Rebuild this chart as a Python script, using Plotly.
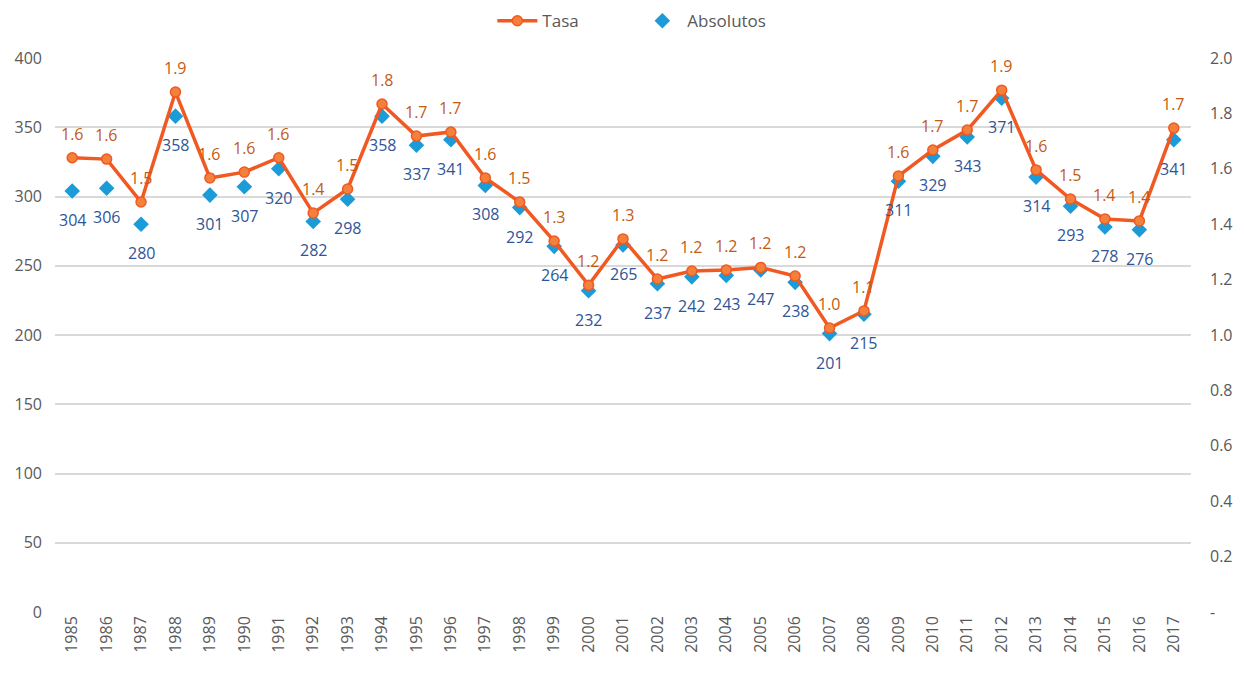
import plotly.graph_objects as go

YEARS = [str(y) for y in range(1985, 2018)]

ABSOLUTOS = [304, 306, 280, 358, 301, 307, 320, 282, 298, 358, 337, 341, 308, 292, 264,
             232, 265, 237, 242, 243, 247, 238, 201, 215, 311, 329, 343, 371, 314, 293,
             278, 276, 341]

TASA = [1.64, 1.635, 1.48, 1.877, 1.567, 1.588, 1.64, 1.44, 1.527, 1.834, 1.718, 1.733,
        1.567, 1.48, 1.339, 1.18, 1.347, 1.202, 1.231, 1.235, 1.244, 1.213, 1.025, 1.087,
        1.574, 1.668, 1.74, 1.884, 1.596, 1.491, 1.419, 1.412, 1.747]

LEFT_TICKS = list(range(0, 401, 50))
RIGHT_TICKS = [0, 0.2, 0.4, 0.6, 0.8, 1.0, 1.2, 1.4, 1.6, 1.8, 2.0]
RIGHT_TEXT = ["-"] + [f"{v:.1f}" for v in RIGHT_TICKS[1:]]

FONT = "Open Sans"
GRAY = "#595959"
ORANGE = "#F05A22"
ORANGE_TXT = "#C55A11"
BLUE = "#1B9BD7"
BLUE_TXT = "#2F5597"

fig = go.Figure()

fig.add_trace(go.Scatter(
    x=YEARS,
    y=TASA,
    name="Tasa",
    mode="lines+markers",
    line=dict(color=ORANGE, width=3.5),
    marker=dict(symbol="circle", size=10, color="#F3813B", line=dict(color=ORANGE, width=1.5)),
    yaxis="y2",
))

fig.add_trace(go.Scatter(
    x=YEARS,
    y=ABSOLUTOS,
    name="Absolutos",
    mode="markers",
    marker=dict(symbol="diamond", size=12, color=BLUE),
    yaxis="y",
))

# etiquetas de datos (x por índice de categoría)
annotations = []
for i, v in enumerate(TASA):
    annotations.append(dict(
        x=i, y=v, xref="x", yref="y2", text=f"{v:.1f}", showarrow=False,
        yshift=24, font=dict(family=FONT, size=16, color=ORANGE_TXT),
    ))
for i, v in enumerate(ABSOLUTOS):
    annotations.append(dict(
        x=i, y=v, xref="x", yref="y", text=str(v), showarrow=False,
        yshift=-29, font=dict(family=FONT, size=16, color=BLUE_TXT),
    ))

# la página añade 8px de margen al body
fig.update_layout(
    width=1228,
    height=659,
    margin=dict(l=47, r=45, t=50, b=55),
    plot_bgcolor="white",
    paper_bgcolor="white",
    font=dict(family=FONT, color=GRAY),
    showlegend=True,
    legend=dict(
        orientation="h", x=0.385, xanchor="left",
        yref="container", y=0.98, yanchor="middle",
        font=dict(family=FONT, size=17, color=GRAY),
        traceorder="normal",
        itemwidth=40,
        entrywidth=90, entrywidthmode="pixels",
    ),
    xaxis=dict(
        type="category",
        range=[-0.5, len(YEARS) - 0.5],
        tickangle=-90,
        tickfont=dict(family=FONT, size=16, color=GRAY),
        showgrid=False,
        showline=False,
        ticks="",
        automargin=False,
    ),
    yaxis=dict(
        range=[0, 400],
        tickvals=LEFT_TICKS,
        tickfont=dict(family=FONT, size=16, color=GRAY),
        gridcolor="#D9D9D9",
        gridwidth=1.5,
        zeroline=False,
        ticklabelstandoff=12,
        automargin=False,
    ),
    yaxis2=dict(
        range=[0, 2.0],
        overlaying="y",
        side="right",
        tickvals=RIGHT_TICKS,
        ticktext=RIGHT_TEXT,
        tickfont=dict(family=FONT, size=16, color=GRAY),
        showgrid=False,
        zeroline=False,
        ticklabelstandoff=18,
        automargin=False,
    ),
    annotations=annotations,
)

fig.write_html("out.html")
